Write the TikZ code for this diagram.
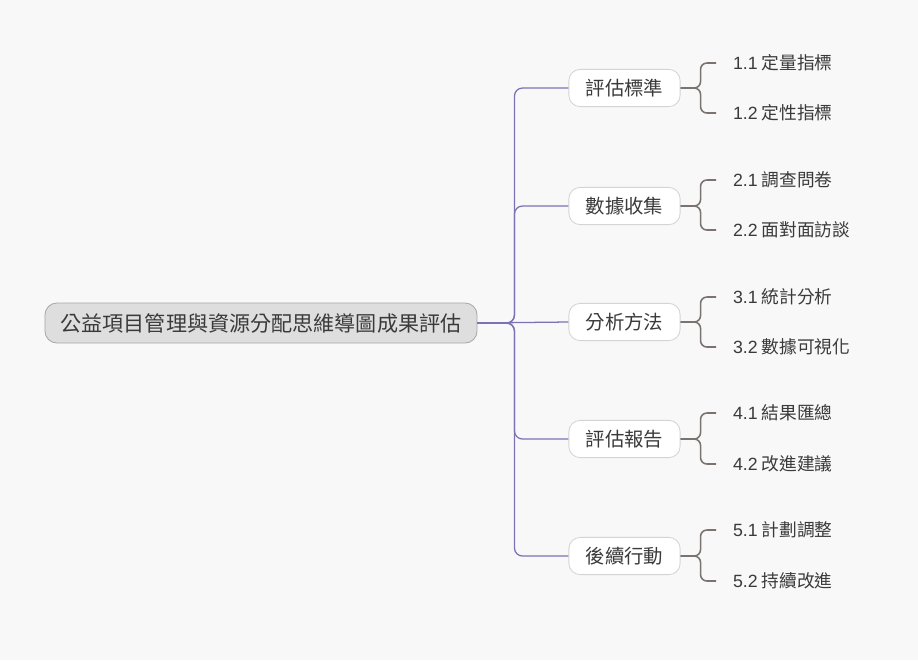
\documentclass[tikz,border=0pt]{standalone}
\usepackage{fontspec}
\setmainfont{Noto Sans CJK TC}
\newfontfamily\numfont{Liberation Sans}
\usepackage{tikz}
\usetikzlibrary{positioning}
\definecolor{bgcol}{HTML}{F8F8F8}
\definecolor{rootfill}{HTML}{DEDEDE}
\definecolor{rootdraw}{HTML}{A8A8A8}
\definecolor{boxdraw}{HTML}{D4D4D4}
\definecolor{trunkcol}{HTML}{7D70B5}
\definecolor{leafcol}{HTML}{7A7370}
\definecolor{textcol}{HTML}{3A3A3A}
\newcommand{\num}[1]{{\numfont #1}}
\tikzset{
    rootbox/.style={draw=rootdraw, fill=rootfill, rounded corners=0.3cm, minimum width=10.8cm, minimum height=1cm, align=center, font=\fontsize{15pt}{17pt}\selectfont, text=textcol, line width=0.6pt},
    branchbox/.style={draw=boxdraw, fill=white, rounded corners=0.28cm, minimum width=2.78cm, minimum height=0.93cm, align=center, font=\fontsize{13.8pt}{15pt}\selectfont, text=textcol, line width=0.6pt},
    leaftext/.style={anchor=west, inner xsep=0.42cm, inner ysep=0pt, font=\fontsize{12.6pt}{14pt}\selectfont, text=textcol},
    trunkline/.style={draw=trunkcol, line width=0.9pt, rounded corners=0.2cm},
    leafline/.style={draw=leafcol, line width=1.1pt, rounded corners=0.16cm}
}

\begin{document}
\begin{tikzpicture}[x=0.025cm, y=-0.025cm]
\useasboundingbox[fill=bgcol] (0,0) rectangle (918,660);
\node[rootbox] (root) at (261,323) {公益項目管理與資源分配思維導圖成果評估};
\node[branchbox] (crit) at (624.5,88) {評估標準};
\node[branchbox] (data) at (624.5,206) {數據收集};
\node[branchbox] (meth) at (624.5,322) {分析方法};
\node[branchbox] (rept) at (624.5,439) {評估報告};
\node[branchbox] (next) at (624.5,556) {後續行動};
\node[leaftext] (crit1) at (716,63) {\num{1.1} 定量指標};
\node[leaftext] (crit2) at (716,113) {\num{1.2} 定性指標};
\node[leaftext] (data1) at (716,180) {\num{2.1} 調查問卷};
\node[leaftext] (data2) at (716,230) {\num{2.2} 面對面訪談};
\node[leaftext] (meth1) at (716,297) {\num{3.1} 統計分析};
\node[leaftext] (meth2) at (716,347) {\num{3.2} 數據可視化};
\node[leaftext] (rept1) at (716,413) {\num{4.1} 結果匯總};
\node[leaftext] (rept2) at (716,464) {\num{4.2} 改進建議};
\node[leaftext] (next1) at (716,530) {\num{5.1} 計劃調整};
\node[leaftext] (next2) at (716,581) {\num{5.2} 持續改進};
% root to branches
\draw[trunkline] (root.east) -- ++(37,0) |- (crit.west);
\draw[trunkline] (root.east) -- ++(37,0) |- (data.west);
\draw[trunkline] (root.east) -- (meth.west);
\draw[trunkline] (root.east) -- ++(37,0) |- (rept.west);
\draw[trunkline] (root.east) -- ++(37,0) |- (next.west);
% branches to leaves
\draw[leafline] (crit.east) -- ++(20,0) |- (crit1.west);
\draw[leafline] (crit.east) -- ++(20,0) |- (crit2.west);
\draw[leafline] (data.east) -- ++(20,0) |- (data1.west);
\draw[leafline] (data.east) -- ++(20,0) |- (data2.west);
\draw[leafline] (meth.east) -- ++(20,0) |- (meth1.west);
\draw[leafline] (meth.east) -- ++(20,0) |- (meth2.west);
\draw[leafline] (rept.east) -- ++(20,0) |- (rept1.west);
\draw[leafline] (rept.east) -- ++(20,0) |- (rept2.west);
\draw[leafline] (next.east) -- ++(20,0) |- (next1.west);
\draw[leafline] (next.east) -- ++(20,0) |- (next2.west);
\end{tikzpicture}
\end{document}
